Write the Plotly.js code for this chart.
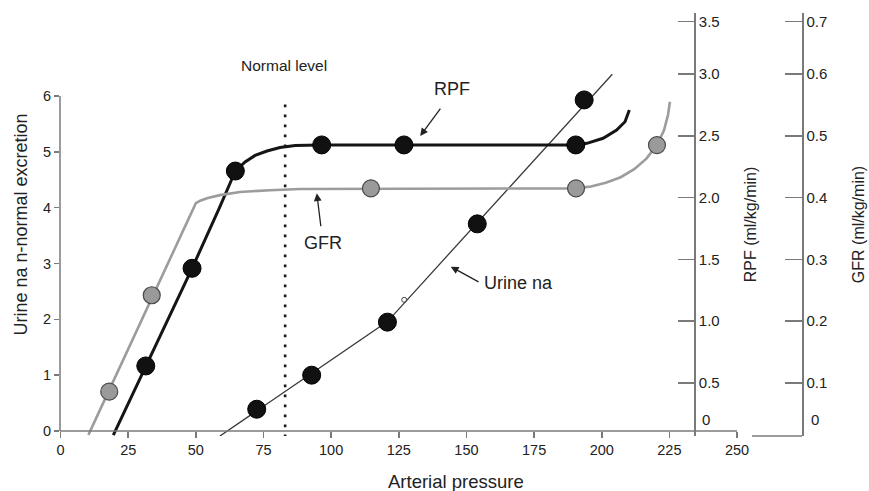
<!DOCTYPE html>
<html>
<head>
<meta charset="utf-8">
<script src="https://cdn.plot.ly/plotly-3.0.1.min.js"></script>
<style>html,body{margin:0;padding:0;background:#fff;}#chart{width:869px;height:491px;}</style>
</head>
<body>
<div id="chart"></div>
<script>
// ---- data ----
// Urine Na (left axis, n-normal excretion)
const urinePtsX = [72.5, 92.8, 120.8, 154.0, 193.5];
const urinePtsY = [0.39, 1.00, 1.95, 3.71, 5.93];
const urineLineX = [58.9, 120.8, 203.9];
const urineLineY = [-0.09, 1.96, 6.39];
const urineOpenX = [127.0];
const urineOpenY = [2.35];

// RPF (ml/kg/min)
const rpfPtsX = [31.5, 48.6, 64.6, 96.5, 126.9, 190.4];
const rpfPtsY = [0.638, 1.428, 2.215, 2.426, 2.426, 2.426];
const rpfLineX = [19.5, 48.6, 58.7, 64.6, 68.2, 71.9, 76.3, 81.1, 86.7, 95.9, 190.4, 194.5, 200.5, 205.5, 208.6, 210.2];
const rpfLineY = [0.079, 1.428, 1.916, 2.215, 2.288, 2.341, 2.377, 2.405, 2.422, 2.426, 2.426, 2.439, 2.480, 2.547, 2.614, 2.709];

// GFR (ml/kg/min)
const gfrPtsX = [18.0, 33.7, 114.7, 190.5, 220.4];
const gfrPtsY = [0.086, 0.242, 0.415, 0.415, 0.485];
const gfrLineX = [10.3, 50.0, 51.6, 54.1, 58.9, 66.3, 77.4, 88.5, 190.5, 196.0, 201.5, 207.0, 212.0, 216.5, 220.4, 223.0, 224.5, 225.2];
const gfrLineY = [0.016, 0.391, 0.395, 0.399, 0.404, 0.409, 0.412, 0.414, 0.415, 0.418, 0.424, 0.433, 0.446, 0.463, 0.485, 0.509, 0.534, 0.555];

// normal level
const normalLevelX = [83, 83];
const normalLevelY = [-0.11, 5.9];

// tick labels
const xTicks = [0, 25, 50, 75, 100, 125, 150, 175, 200, 225, 250];
const yTicks = [0, 1, 2, 3, 4, 5, 6];
const rpfTickVals = [0.5, 1.0, 1.5, 2.0, 2.5, 3.0, 3.423];
const rpfTickText = ['0.5', '1.0', '1.5', '2.0', '2.5', '3.0', '3.5'];
const gfrTickVals = [0.1, 0.2, 0.3, 0.4, 0.5, 0.6, 0.6846];
const gfrTickText = ['0.1', '0.2', '0.3', '0.4', '0.5', '0.6', '0.7'];

const FONT = 'Liberation Sans, Arial, Helvetica, sans-serif';
const AX = '#7a7a7a';
const TXT = '#222';

const traces = [
  {x: gfrLineX, y: gfrLineY, yaxis: 'y3', mode: 'lines', line: {color: '#9c9c9c', width: 2.6}, hoverinfo: 'skip'},
  {x: rpfLineX, y: rpfLineY, yaxis: 'y2', mode: 'lines', line: {color: '#151515', width: 3}, hoverinfo: 'skip'},
  {x: urineLineX, y: urineLineY, yaxis: 'y', mode: 'lines', line: {color: '#3a3a3a', width: 1.3}, hoverinfo: 'skip'},
  {x: normalLevelX, y: normalLevelY, yaxis: 'y', mode: 'lines', line: {color: '#1a1a1a', width: 2.6, dash: '2.6px,7.4px'}, hoverinfo: 'skip'},
  {x: urineOpenX, y: urineOpenY, yaxis: 'y', mode: 'markers', marker: {symbol: 'circle-open', size: 5, color: '#444', line: {width: 1}}, cliponaxis: false},
  {x: gfrPtsX, y: gfrPtsY, yaxis: 'y3', mode: 'markers', marker: {size: 17, color: '#9a9a9a', line: {color: '#4a4a4a', width: 1.2}}, cliponaxis: false},
  {x: rpfPtsX, y: rpfPtsY, yaxis: 'y2', mode: 'markers', marker: {size: 18, color: '#111', line: {color: '#000', width: 1}}, cliponaxis: false},
  {x: urinePtsX, y: urinePtsY, yaxis: 'y', mode: 'markers', marker: {size: 18, color: '#111', line: {color: '#000', width: 1}}, cliponaxis: false}
];

function arrow(x, y, ax, ay) {
  return {x: x, y: y, xref: 'x', yref: 'y', ax: ax, ay: ay, text: ' ', font: {size: 1},
    showarrow: true, arrowhead: 2, arrowsize: 1.2, arrowwidth: 1.3, arrowcolor: '#222'};
}
function label(x, y, t, size) {
  return {x: x, y: y, xref: 'x', yref: 'y', text: t, showarrow: false,
    font: {family: FONT, size: size, color: TXT}, xanchor: 'center', yanchor: 'middle'};
}

const layout = {
  width: 869, height: 491,
  margin: {l: 60, r: 67, t: 13, b: 55},
  paper_bgcolor: '#fff', plot_bgcolor: '#fff',
  showlegend: false,
  font: {family: FONT, color: TXT, size: 14},
  xaxis: {
    domain: [0, 1], range: [-0.2, 274.0], anchor: 'free', position: 0.0118,
    showline: false, showgrid: false, zeroline: false,
    tickmode: 'array', tickvals: xTicks, ticks: 'outside', ticklen: 6, tickwidth: 1.5, tickcolor: AX,
    tickfont: {size: 14.5, color: TXT}
  },
  yaxis: {
    range: [-0.0896, 7.487], anchor: 'x',
    showline: false, showgrid: false, zeroline: false,
    tickmode: 'array', tickvals: yTicks, ticks: 'outside', ticklen: 5, tickwidth: 1.5, tickcolor: AX,
    tickfont: {size: 14.5, color: TXT},
    title: {text: 'Urine na n-normal excretion', font: {size: 18, color: TXT}, standoff: 10}
  },
  yaxis2: {
    overlaying: 'y', anchor: 'free', position: 0.8549, side: 'right',
    range: [0.0712, 3.4935],
    showline: true, linecolor: AX, linewidth: 1.5, showgrid: false, zeroline: false,
    tickmode: 'array', tickvals: rpfTickVals, ticktext: rpfTickText,
    ticks: 'inside', ticklen: 16, tickwidth: 1.5, tickcolor: AX,
    tickfont: {size: 15, color: TXT},
    title: {text: 'RPF (ml/kg/min)', font: {size: 16, color: TXT}, standoff: 26}
  },
  yaxis3: {
    overlaying: 'y', anchor: 'free', position: 1, side: 'right',
    range: [0.01424, 0.6987],
    showline: true, linecolor: AX, linewidth: 1.5, showgrid: false, zeroline: false,
    tickmode: 'array', tickvals: gfrTickVals, ticktext: gfrTickText,
    ticks: 'inside', ticklen: 17, tickwidth: 1.5, tickcolor: AX,
    tickfont: {size: 15, color: TXT},
    title: {text: 'GFR (ml/kg/min)', font: {size: 16, color: TXT}, standoff: 26}
  },
  shapes: [
    {type: 'line', xref: 'paper', yref: 'y', x0: 0, x1: 0, y0: 0, y1: 6, line: {color: AX, width: 1.5}},
    {type: 'line', xref: 'x', yref: 'y', x0: -2, x1: 250, y0: 0, y1: 0, line: {color: AX, width: 1.5}},
    {type: 'line', xref: 'paper', yref: 'paper', x0: 0.9326, x1: 1, y0: 0, y1: 0, line: {color: AX, width: 1.5}}
  ],
  annotations: [
    {x: 0.5337, y: -0.108, xref: 'paper', yref: 'paper', text: 'Arterial pressure', showarrow: false,
      xanchor: 'center', yanchor: 'middle', font: {size: 18.5, color: TXT}},
    label(82.6, 6.54, 'Normal level', 15.5),
    label(144.8, 6.12, 'RPF', 18),
    label(97.1, 3.37, 'GFR', 18),
    label(169.2, 2.65, 'Urine na', 18),
    arrow(132.9, 5.284, 21.7, -29.3),
    arrow(94.7, 4.258, 4.3, 35),
    arrow(144.2, 2.943, 29.3, 16),
    {x: 0.8625, y: 0.0395, xref: 'paper', yref: 'paper', text: '0', showarrow: false, xanchor: 'left', yanchor: 'middle', font: {size: 15, color: TXT}},
    {x: 1.0094, y: 0.0395, xref: 'paper', yref: 'paper', text: '0', showarrow: false, xanchor: 'left', yanchor: 'middle', font: {size: 15, color: TXT}}
  ]
};

Plotly.newPlot('chart', traces, layout, {displayModeBar: false, staticPlot: true});
</script>
</body>
</html>
